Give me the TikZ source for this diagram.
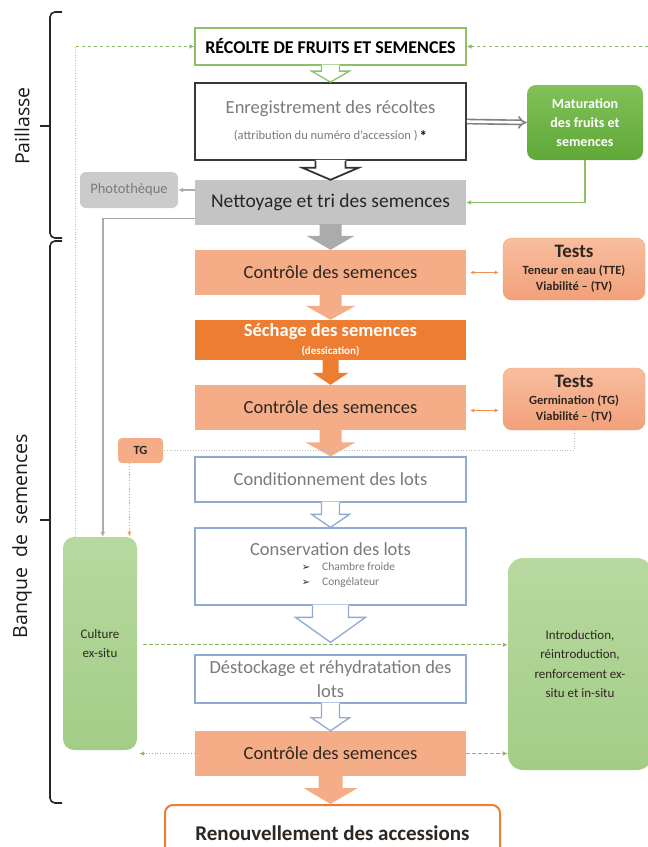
\documentclass[tikz,border=0pt]{standalone}
\usepackage{fontspec}
\setmainfont{Carlito}
\newfontfamily\sidefont{Open Sans}
\newfontfamily\symfont{DejaVu Sans}
\usetikzlibrary{calc,arrows.meta}

\definecolor{salmon}{HTML}{F4AD87}
\definecolor{salmondark}{HTML}{F2A07A}
\definecolor{salmonlight}{HTML}{F8BE9E}
\definecolor{deeporange}{HTML}{ED7D31}
\definecolor{leafgreen}{HTML}{5FA838}
\definecolor{leafgreenlight}{HTML}{82C158}
\definecolor{palegreen}{HTML}{A3CD86}
\definecolor{palegreenlight}{HTML}{B7D9A0}
\definecolor{framegreen}{HTML}{8CC16A}
\definecolor{frameblue}{HTML}{8FAAD3}
\definecolor{boxgray}{HTML}{C4C4C4}
\definecolor{lightgray}{HTML}{CBCBCB}
\definecolor{textgray}{HTML}{7A7A7A}
\definecolor{darktext}{HTML}{2E2620}
\definecolor{linegray}{HTML}{ABABAB}
\definecolor{dashgreen}{HTML}{8DB86A}
\definecolor{dotgray}{HTML}{BDBDBD}

% block arrow from the bottom of one box to the top of the next:
% from, to, shaft half-width, head half-width, head length, gap, fill, outline
\newcommand\blockarrow[8]{%
  \fill[#7] let \p1=(#1.south), \p2=(#2.north) in
    (\x1+#3pt,\y1+1pt) -- (\x1+#3pt,\y2+#6pt+#5pt) -- (\x1+#4pt,\y2+#6pt+#5pt) -- (\x1,\y2+#6pt)
    -- (\x1-#4pt,\y2+#6pt+#5pt) -- (\x1-#3pt,\y2+#6pt+#5pt) -- (\x1-#3pt,\y1+1pt) -- cycle;
  \draw[#8] let \p1=(#1.south), \p2=(#2.north) in
    (\x1+#3pt,\y1) -- (\x1+#3pt,\y2+#6pt+#5pt) -- (\x1+#4pt,\y2+#6pt+#5pt) -- (\x1,\y2+#6pt)
    -- (\x1-#4pt,\y2+#6pt+#5pt) -- (\x1-#3pt,\y2+#6pt+#5pt) -- (\x1-#3pt,\y1);}

\tikzset{
  stage/.style={rectangle, minimum width=271pt, align=center, inner sep=2pt,
    font=\fontsize{18.5}{22}\selectfont},
  ctrlbox/.style={stage, fill=salmon, minimum height=45pt, text=darktext},
  bluebox/.style={stage, draw=frameblue, line width=1.3pt, fill=white, text=textgray},
  testbox/.style={rectangle, rounded corners=9pt, minimum width=142pt, minimum height=62pt,
    top color=salmonlight, bottom color=salmondark, draw=salmondark, align=center,
    text=darktext, font=\bfseries\fontsize{12.5}{16.5}\selectfont},
  greenpanel/.style={rectangle, top color=palegreenlight, bottom color=palegreen,
    align=center, text=darktext, font=\fontsize{13}{19.5}\selectfont},
  dashlink/.style={draw=dashgreen, line width=0.9pt, dash pattern=on 3.5pt off 2.5pt,
    -{Latex[length=5pt,width=4.5pt]}},
  dotlink/.style={draw=dotgray, line width=0.9pt, dash pattern=on 1pt off 1.6pt},
  dotgreen/.style={draw=dashgreen, line width=0.9pt, dash pattern=on 1pt off 1.8pt,
    -{Latex[length=5pt,width=4.5pt]}},
  orangedot/.style={draw=deeporange!70, line width=0.9pt, dash pattern=on 1.2pt off 1.6pt,
    -{Latex[length=5pt,width=4.5pt]}},
  grayline/.style={draw=linegray, line width=1.4pt, -{Latex[length=5pt,width=5pt]}},
  greenline/.style={draw=framegreen, line width=1.4pt, -{Latex[length=5pt,width=5pt]}},
  twohead/.style={draw=deeporange!85, line width=1.1pt,
    {Latex[length=4pt,width=4pt]}-{Latex[length=4pt,width=4pt]},
    shorten <=4pt, shorten >=4pt},
  bracket/.style={line width=1.6pt, draw=black!85},
  sidelabel/.style={rotate=90, font=\sidefont\fontsize{19.5}{22}\selectfont, text=black!90},
}

\begin{document}
\begin{tikzpicture}[x=1pt,y=-1pt]
\useasboundingbox (0,0) rectangle (648,847);

% ---------- side brackets ----------
\draw[bracket, rounded corners=5pt] (62,12) -| (50,126);
\draw[bracket] (50,126) -- (40,126);
\draw[bracket, rounded corners=5pt] (50,126) |- (62,238);
\draw[bracket, rounded corners=5pt] (62,241) -| (50,520);
\draw[bracket] (50,520) -- (40,520);
\draw[bracket, rounded corners=5pt] (50,520) |- (62,803);
\node[sidelabel] (paillasselbl) at (22,126) {Paillasse};
\node[sidelabel] (banquelbl) at (22,536) {Banque\hspace{5pt} de\hspace{5pt} semences};

% ---------- main column ----------
\node[stage, draw=framegreen, line width=1.3pt, fill=white, minimum height=37pt,
  font=\bfseries\fontsize{18}{20}\selectfont, text=black] (recolte) at (330.5,46.5)
  {RÉCOLTE DE FRUITS ET SEMENCES};

\node[stage, draw=black!78, line width=1.8pt, fill=white, minimum height=77pt, text=textgray]
  (enreg) at (330.5,121.5)
  {Enregistrement des récoltes\\[4pt]{\fontsize{12.5}{14}\selectfont(attribution du numéro d’accession )\,\textcolor{black}{\bfseries\fontsize{15}{14}\selectfont\raisebox{-2pt}{*}}}};

\node[rectangle, rounded corners=9pt, minimum width=116pt, minimum height=75pt,
  top color=leafgreenlight, bottom color=leafgreen, text=white, align=center,
  font=\bfseries\fontsize{14}{19}\selectfont] (matur) at (585,122.5)
  {Maturation\\des fruits et\\semences};

\node[stage, fill=boxgray, minimum height=45pt, text=black!85,
  font=\fontsize{19.5}{22}\selectfont] (nett) at (330.5,202.5)
  {Nettoyage et tri des semences};

\node[rectangle, rounded corners=6pt, minimum width=98pt, minimum height=36pt, fill=lightgray,
  text=textgray, font=\fontsize{14.5}{16}\selectfont] (photo) at (129,190) {Photothèque};

\node[ctrlbox] (ctrl1) at (330.5,272.5) {Contrôle des semences};
\node[testbox] (tests1) at (574,269)
  {{\fontsize{19}{20}\selectfont Tests}\\Teneur en eau (TTE)\\Viabilité – (TV)};

\node[stage, fill=deeporange, minimum height=40pt, text=white,
  font=\bfseries\fontsize{18.5}{18}\selectfont] (sech) at (330.5,340)
  {Séchage des semences\\{\fontsize{11}{11}\selectfont(dessication)}};

\node[ctrlbox] (ctrl2) at (330.5,407.5) {Contrôle des semences};
\node[testbox] (tests2) at (574,399)
  {{\fontsize{19}{20}\selectfont Tests}\\Germination (TG)\\Viabilité – (TV)};

\node[rectangle, rounded corners=4pt, fill=salmon, minimum width=45pt, minimum height=25pt,
  font=\bfseries\fontsize{12.5}{14}\selectfont, text=darktext] (tg) at (140.5,450.5) {TG};

\node[bluebox, minimum height=45pt] (cond) at (330.5,479.5) {Conditionnement des lots};

\node[bluebox, minimum height=77pt] (cons) at (330.5,566.5)
  {Conservation des lots\\[1pt]
   \hspace*{36pt}{\fontsize{11.5}{15}\selectfont
   \begin{tabular}{@{}l@{\hspace{12pt}}l@{}}
   {\symfont\color{black!85}\fontsize{10}{10}\selectfont ➢} & Chambre froide\\
   {\symfont\color{black!85}\fontsize{10}{10}\selectfont ➢} & Congélateur
   \end{tabular}}};

\node[bluebox, minimum height=48pt, font=\fontsize{18.5}{24}\selectfont] (dest) at (330.5,679)
  {Déstockage et réhydratation des\\lots};

\node[ctrlbox] (ctrl3) at (330.5,753.5) {Contrôle des semences};

\node[rectangle, rounded corners=8pt, draw=deeporange, line width=2pt, fill=white,
  minimum width=335pt, minimum height=56pt, font=\bfseries\fontsize{21}{22}\selectfont,
  text=darktext] (renouv) at (332.5,833) {Renouvellement des accessions};

% ---------- side panels ----------
\node[greenpanel, rounded corners=11pt, minimum width=74pt, minimum height=213pt]
  (culture) at (100,643.5) {Culture\\ex-situ};
\node[greenpanel, rounded corners=15pt, minimum width=144pt, minimum height=212pt]
  (intro) at (580,664) {Introduction,\\réintroduction,\\renforcement ex-\\situ et in-situ};

% ---------- block arrows ----------
\blockarrow{recolte}{enreg}{9}{19}{11}{0}{white}{draw=framegreen,line width=1.3pt}
\blockarrow{enreg}{nett}{15}{28}{12}{0}{white}{draw=black!80,line width=1.8pt}
\blockarrow{nett}{ctrl1}{11}{24}{14}{0}{linegray}{draw=none}
\blockarrow{ctrl1}{sech}{11}{25}{14}{0}{salmon}{draw=none}
\blockarrow{sech}{ctrl2}{8}{18}{12}{0}{deeporange}{draw=none}
\blockarrow{ctrl2}{cond}{11}{25}{14}{0}{salmon}{draw=none}
\blockarrow{cond}{cons}{9}{19}{13}{0}{white}{draw=frameblue,line width=1.3pt}
\blockarrow{cons}{dest}{18}{35}{25}{12}{white}{draw=frameblue,line width=1.3pt}
\blockarrow{dest}{ctrl3}{9}{19}{13}{0}{white}{draw=frameblue,line width=1.3pt}
\blockarrow{ctrl3}{renouv}{12}{27}{16}{0}{salmon}{draw=none}

% ---------- connectors ----------
\draw[draw=black!50, line width=1.6pt, double=white, double distance=2.6pt,
  -{Implies}] (enreg.east) -- (matur.west);
\draw[greenline] (matur.south) |- (nett.east);
\draw[grayline] (nett.west |- photo.east) -- (photo.east);
\draw[grayline] ([yshift=7pt]nett.south west) -| ([xshift=40pt]culture.north west);
\coordinate (loopcorner) at ([xshift=13pt]culture.north west |- recolte.west);
\draw[dotlink] ([xshift=13pt]culture.north west) -- (loopcorner);
\draw[dashlink] (loopcorner) -- (recolte.west);
\coordinate (topright) at (648,46.5);
\draw[dashlink] (topright) -- (recolte.east);

\draw[twohead] (ctrl1.east) -- (ctrl1.east -| tests1.west);
\draw[twohead] ([yshift=-3pt]ctrl2.east) -- ([yshift=-3pt]ctrl2.east -| tests2.west);

\draw[dotlink] (tests2.south) |- (tg.east);
\draw[orangedot] ([xshift=-11pt]tg.south) -- ([xshift=-11pt]tg.south |- culture.north);

\draw[dashlink, shorten <=6pt] ([yshift=-108pt]culture.north east) -- ([yshift=-108pt]culture.north east -| intro.west);
\draw[dotgreen, shorten >=2pt] (ctrl3.west) -- (ctrl3.west -| culture.east);
\draw[dashlink] (ctrl3.east) -- (ctrl3.east -| intro.west);

\end{tikzpicture}
\end{document}
